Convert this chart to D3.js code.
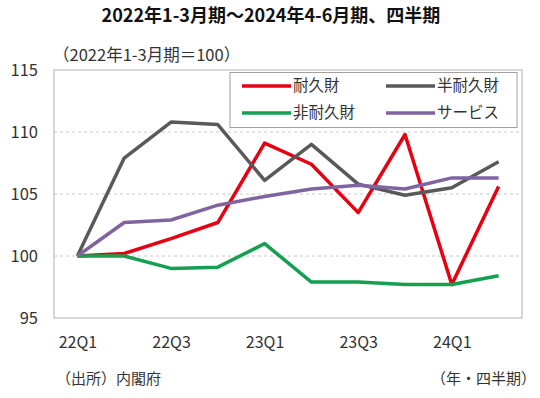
<!DOCTYPE html>
<html lang="ja">
<head>
<meta charset="utf-8">
<script src="https://cdn.jsdelivr.net/npm/d3@7"></script>
<style>
    body { margin: 0; background: #fff; }
    text { font-family: "Noto Sans CJK JP", "Noto Sans", sans-serif; fill: #333; }
</style>
</head>
<body>
<div id="chart"></div>
<script>
    // 2022Q1 = 100
    var quarters = ["22Q1", "22Q2", "22Q3", "22Q4", "23Q1", "23Q2", "23Q3", "23Q4", "24Q1", "24Q2"];
    var tickQuarters = ["22Q1", "22Q3", "23Q1", "23Q3", "24Q1"];
    var yTicks = [95, 100, 105, 110, 115];

    var durable = [100, 100.2, 101.4, 102.7, 109.1, 107.4, 103.5, 109.8, 97.7, 105.6];
    var semiDurable = [100, 107.9, 110.8, 110.6, 106.1, 109.0, 105.8, 104.9, 105.5, 107.6];
    var nonDurable = [100, 100.0, 99.0, 99.1, 101.0, 97.9, 97.9, 97.7, 97.7, 98.4];
    var services = [100, 102.7, 102.9, 104.1, 104.8, 105.4, 105.7, 105.4, 106.3, 106.3];

    var seriesNames = ["耐久財", "半耐久財", "非耐久財", "サービス"];
    var seriesColors = ["#e60012", "#595959", "#14a050", "#8064a2"];
    var seriesData = [durable, semiDurable, nonDurable, services];

    var W = 540, H = 398;
    var plot = { left: 54, right: 522, top: 70, bottom: 318 };

    var svg = d3.select("#chart").append("svg")
        .attr("width", W)
        .attr("height", H);

    svg.append("rect").attr("width", W).attr("height", H).attr("fill", "#fff");

    var x = d3.scalePoint()
        .domain(quarters)
        .range([plot.left, plot.right])
        .padding(0.5);

    var y = d3.scaleLinear()
        .domain([95, 115])
        .range([plot.bottom, plot.top]);

    // title
    svg.append("text")
        .attr("x", 271)
        .attr("y", 22)
        .attr("text-anchor", "middle")
        .style("font-size", "18px")
        .style("font-weight", "bold")
        .style("fill", "#111")
        .text("2022年1-3月期～2024年4-6月期、四半期");

    svg.append("text")
        .attr("x", 53)
        .attr("y", 61)
        .style("font-size", "16.5px")
        .text("（2022年1-3月期＝100）");

    // gridlines
    svg.append("g")
        .selectAll("line")
        .data(yTicks.filter(function (d) { return d > 95 && d < 115; }))
        .enter().append("line")
        .attr("x1", plot.left).attr("x2", plot.right)
        .attr("y1", function (d) { return y(d); })
        .attr("y2", function (d) { return y(d); })
        .attr("stroke", "#c8c8c8")
        .attr("stroke-dasharray", "3,3");

    svg.append("rect")
        .attr("x", plot.left).attr("y", plot.top)
        .attr("width", plot.right - plot.left)
        .attr("height", plot.bottom - plot.top)
        .attr("fill", "none")
        .attr("stroke", "#b0b0b0");

    // y axis
    var yAxis = svg.append("g")
        .attr("transform", "translate(" + (plot.left - 16) + ",0)")
        .call(d3.axisLeft(y).tickValues(yTicks).tickSize(0).tickPadding(0));
    yAxis.select(".domain").remove();
    yAxis.selectAll("text").style("font-size", "16.5px").style("fill", "#333");

    // x axis
    var xAxis = svg.append("g")
        .attr("transform", "translate(0," + (plot.bottom + 19) + ")")
        .call(d3.axisBottom(x).tickValues(tickQuarters).tickSize(0).tickPadding(0));
    xAxis.select(".domain").remove();
    xAxis.selectAll("text").style("font-size", "16px").style("fill", "#333");

    // lines
    var line = d3.line()
        .x(function (d, i) { return x(quarters[i]); })
        .y(function (d) { return y(d); });

    svg.append("g")
        .selectAll("path")
        .data(seriesData)
        .enter().append("path")
        .attr("d", line)
        .attr("fill", "none")
        .attr("stroke", function (d, i) { return seriesColors[i]; })
        .attr("stroke-width", 3.5)
        .attr("stroke-linejoin", "round");

    // legend
    svg.append("rect")
        .attr("x", 230).attr("y", 72.5)
        .attr("width", 287).attr("height", 55)
        .attr("fill", "#fff")
        .attr("stroke", "#a0a0a0");

    var legend = svg.append("g")
        .selectAll("g")
        .data(seriesNames)
        .enter().append("g")
        .attr("transform", function (d, i) {
            return "translate(" + (i % 2 === 0 ? 242 : 386) + "," + (i < 2 ? 86 : 113) + ")";
        });
    legend.append("line")
        .attr("x1", 0).attr("x2", 49)
        .attr("stroke", function (d, i) { return seriesColors[i]; })
        .attr("stroke-width", 3.5);
    legend.append("text")
        .attr("x", 51)
        .attr("dy", "0.35em")
        .style("font-size", "15.5px")
        .text(function (d) { return d; });

    // footer
    svg.append("text")
        .attr("x", 56)
        .attr("y", 384)
        .style("font-size", "15px")
        .text("（出所）内閣府");

    svg.append("text")
        .attr("x", 536)
        .attr("y", 384)
        .attr("text-anchor", "end")
        .style("font-size", "15px")
        .text("（年・四半期）");
</script>
</body>
</html>
